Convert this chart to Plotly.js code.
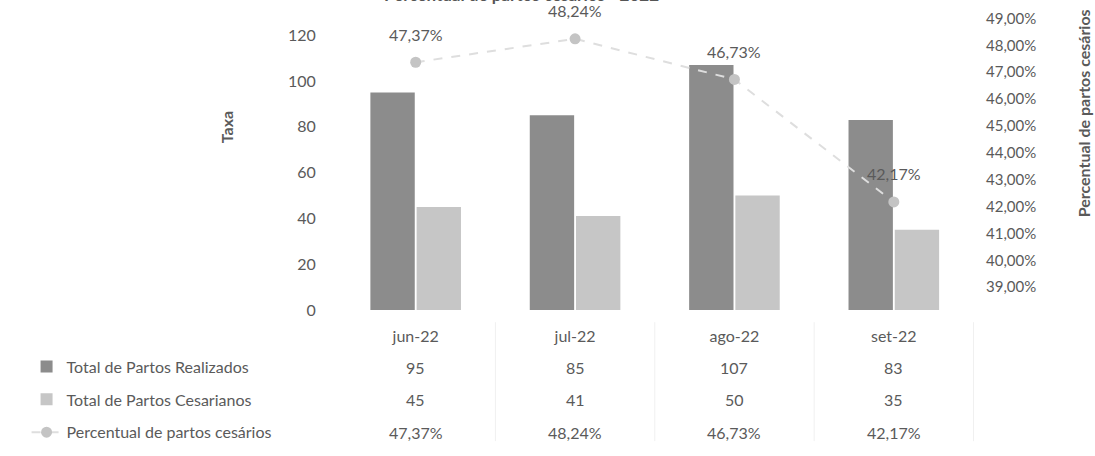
<!DOCTYPE html>
<html>
<head>
<meta charset="utf-8">
<script src="https://cdn.plot.ly/plotly-3.0.1.min.js"></script>
<style>html,body{margin:0;padding:0;background:#fff;}#chart{width:1095px;height:456px;}</style>
</head>
<body>
<div id="chart"></div>
<script>
// ---- data ----
const months = ['jun-22', 'jul-22', 'ago-22', 'set-22'];
const totalRealizados = [95, 85, 107, 83];
const totalCesarianos = [45, 41, 50, 35];
const percentualCesarios = [47.37, 48.24, 46.73, 42.17];
const seriesNames = ['Total de Partos Realizados', 'Total de Partos Cesarianos', 'Percentual de partos cesários'];
const leftTicks = [0, 20, 40, 60, 80, 100, 120];
const rightTicks = [39, 40, 41, 42, 43, 44, 45, 46, 47, 48, 49];
const chartTitle = 'Percentual de partos cesários - 2022';

const FONT = 'Lato, "Open Sans", "DejaVu Sans", sans-serif';
const TXT = '#5a5a5a';
const fmtPct = v => v.toFixed(2).replace('.', ',') + '%';

const traces = [
  {type: 'bar', name: seriesNames[0], x: months, y: totalRealizados,
   marker: {color: '#8c8c8c'}, legendgroup: 'a', hoverinfo: 'y'},
  {type: 'bar', name: seriesNames[1], x: months, y: totalCesarianos,
   marker: {color: '#c6c6c6'}, legendgroup: 'b', hoverinfo: 'y'},
  {type: 'scatter', mode: 'lines+markers', name: seriesNames[2], x: months, y: percentualCesarios,
   yaxis: 'y2', line: {color: '#dedede', width: 2, dash: 'dash'},
   marker: {color: '#c4c4c4', size: 11}, legendgroup: 'c', cliponaxis: false}
];

const annotations = [];
// data labels over the points
months.forEach((m, i) => annotations.push({
  x: m, y: percentualCesarios[i], xref: 'x', yref: 'y2', yshift: 28,
  xanchor: 'center', yanchor: 'middle',
  text: fmtPct(percentualCesarios[i]), showarrow: false,
  font: {family: FONT, size: 16, color: TXT}
}));
// data table rows
const rowY = [-0.187, -0.295, -0.403];
const rows = [totalRealizados.map(String), totalCesarianos.map(String), percentualCesarios.map(fmtPct)];
rows.forEach((r, ri) => r.forEach((t, i) => annotations.push({
  x: months[i], y: rowY[ri], xref: 'x', yref: 'paper', xanchor: 'center', yanchor: 'middle',
  text: t, showarrow: false, font: {family: FONT, size: 16, color: TXT}
})));
// titles
annotations.push({text: chartTitle, xref: 'paper', yref: 'paper', x: 0.29, y: 0.993,
  xanchor: 'center', yanchor: 'bottom', showarrow: false,
  font: {family: FONT, size: 17, color: '#555', weight: 'bold'}});
annotations.push({text: 'Taxa', xref: 'paper', yref: 'paper', x: -0.172, y: 0.6,
  xanchor: 'center', yanchor: 'middle',
  textangle: -90, showarrow: false, font: {family: FONT, size: 16, color: TXT, weight: 'bold'}});
annotations.push({text: 'Percentual de partos cesários', xref: 'paper', yref: 'paper', x: 1.173, y: 0.646,
  xanchor: 'center', yanchor: 'middle',
  textangle: -90, showarrow: false, font: {family: FONT, size: 16, color: TXT, weight: 'bold'}});

const shapes = [0.5, 1.5, 2.5, 3.5].map(v => ({type: 'line', xref: 'x', yref: 'paper',
  x0: v, x1: v, y0: -0.04, y1: -0.43, line: {color: '#f0f0f0', width: 1}}));

const layout = {
  width: 1095, height: 456,
  margin: {l: 336, r: 121, t: 5, b: 146},
  paper_bgcolor: '#fff', plot_bgcolor: '#fff',
  font: {family: FONT, color: TXT, size: 16},
  barmode: 'group', bargap: 0.42, bargroupgap: 0.04,
  showlegend: true,
  legend: {x: -0.485, xanchor: 'left', y: -0.13, yanchor: 'top', orientation: 'v',
    traceorder: 'grouped', tracegroupgap: 9, font: {family: FONT, size: 16, color: TXT},
    bgcolor: 'rgba(0,0,0,0)'},
  xaxis: {type: 'category', showline: false, showgrid: false, zeroline: false,
    ticks: 'outside', ticklen: 12, tickcolor: 'rgba(0,0,0,0)',
    tickfont: {family: FONT, size: 16, color: TXT}},
  yaxis: {range: [0, 133.2], tickvals: leftTicks, showgrid: false, zeroline: false, showline: false,
    ticks: 'outside', ticklen: 16, tickcolor: 'rgba(0,0,0,0)',
    tickfont: {family: FONT, size: 16, color: TXT}},
  yaxis2: {overlaying: 'y', side: 'right', range: [38.15, 49.5],
    tickvals: rightTicks, ticktext: rightTicks.map(fmtPct),
    showgrid: false, zeroline: false, showline: false,
    ticks: 'outside', ticklen: 8, tickcolor: 'rgba(0,0,0,0)',
    tickfont: {family: FONT, size: 15, color: TXT}},
  annotations: annotations,
  shapes: shapes
};

Plotly.newPlot('chart', traces, layout, {displayModeBar: false, staticPlot: true});
</script>
</body>
</html>
